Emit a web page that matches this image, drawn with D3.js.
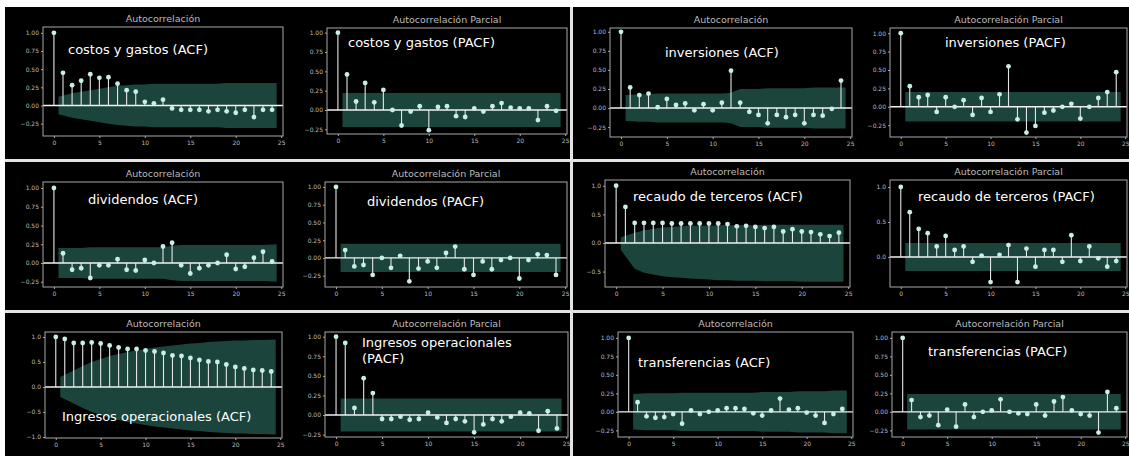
<!DOCTYPE html>
<html>
  <head>
    <meta charset="utf-8">
    <title>Autocorrelación</title>
    <script src="https://d3js.org/d3.v7.min.js"></script>
    <style>
      body { margin: 0; background: #fff; }
      svg { display: block; font-family: "DejaVu Sans", sans-serif; }
    </style>
  </head>
  <body>
    <svg id="chart" width="1129" height="456"></svg>
    <script>
      // lags shown in every panel
      const lags = [0, 1, 2, 3, 4, 5, 6, 7, 8, 9, 10, 11, 12, 13, 14, 15, 16, 17, 18, 19, 20, 21, 22, 23, 24];
      const xTicks = [0, 5, 10, 15, 20, 25];
      const ticksQuarter = [-0.25, 0, 0.25, 0.5, 0.75, 1];

      // values (lag 0..24)
      const costosAcf = [1.0, 0.45, 0.28, 0.34, 0.43, 0.38, 0.39, 0.30, 0.21, 0.19, 0.05, 0.03, 0.08, -0.04, -0.06, -0.06, -0.06, -0.08, -0.06, -0.08, -0.10, -0.06, -0.16, -0.06, -0.06];
      const costosPacf = [1.0, 0.46, 0.11, 0.35, 0.10, 0.26, 0.00, -0.20, -0.02, 0.05, -0.26, 0.04, 0.05, -0.08, -0.09, 0.02, -0.02, 0.05, 0.09, 0.03, 0.02, 0.02, -0.13, 0.05, -0.01];
      const inversionesAcf = [1.0, 0.27, 0.17, 0.19, 0.01, 0.12, 0.04, 0.06, -0.03, 0.05, -0.03, 0.07, 0.49, 0.07, -0.05, -0.09, -0.20, -0.09, -0.12, -0.09, -0.20, -0.09, -0.10, -0.01, 0.36];
      const inversionesPacf = [1.0, 0.28, 0.13, 0.16, -0.07, 0.13, 0.00, 0.09, -0.11, 0.12, -0.07, 0.17, 0.55, -0.17, -0.35, -0.26, -0.08, -0.05, 0.00, 0.04, -0.16, 0.00, 0.12, 0.20, 0.47];
      const dividendosAcf = [1.0, 0.13, -0.09, -0.07, -0.20, -0.03, -0.03, 0.05, -0.09, -0.10, 0.04, 0.00, 0.22, 0.27, -0.03, -0.14, -0.07, -0.03, 0.00, 0.11, -0.08, -0.05, 0.07, 0.15, 0.02];
      const dividendosPacf = [1.0, 0.11, -0.12, -0.10, -0.24, 0.00, -0.14, 0.03, -0.33, -0.15, -0.05, -0.14, 0.07, 0.16, -0.16, -0.24, -0.05, -0.16, -0.03, 0.00, -0.29, -0.03, 0.05, 0.04, -0.24];
      const recaudoAcf = [1.0, 0.63, 0.35, 0.35, 0.35, 0.35, 0.34, 0.34, 0.34, 0.34, 0.34, 0.34, 0.33, 0.29, 0.30, 0.28, 0.26, 0.28, 0.20, 0.24, 0.20, 0.19, 0.15, 0.12, 0.18];
      const recaudoPacf = [1.0, 0.64, 0.40, 0.34, 0.15, 0.30, 0.10, 0.15, -0.07, 0.02, -0.36, 0.03, 0.17, -0.36, 0.12, -0.14, 0.10, 0.10, -0.07, 0.31, -0.06, 0.15, -0.02, -0.14, -0.06];
      const ingresosAcf = [1.0, 0.96, 0.88, 0.88, 0.89, 0.87, 0.83, 0.79, 0.76, 0.76, 0.73, 0.71, 0.68, 0.63, 0.62, 0.58, 0.54, 0.51, 0.50, 0.45, 0.40, 0.37, 0.34, 0.33, 0.31];
      const ingresosPacf = [1.0, 0.92, 0.09, 0.47, 0.28, -0.05, -0.05, -0.02, -0.06, -0.05, 0.03, -0.03, -0.10, -0.05, -0.08, -0.22, -0.12, -0.05, -0.08, -0.02, 0.03, 0.02, -0.20, 0.05, -0.17];
      const transferenciasAcf = [1.0, 0.13, -0.06, -0.08, -0.07, -0.03, -0.16, 0.02, -0.03, 0.00, 0.02, 0.05, 0.05, 0.04, -0.02, -0.05, 0.02, 0.18, 0.03, 0.05, -0.01, -0.05, -0.15, -0.03, 0.04];
      const transferenciasPacf = [1.0, 0.16, -0.07, -0.05, -0.18, 0.03, -0.20, 0.10, -0.07, 0.00, 0.02, 0.17, 0.00, -0.02, -0.03, 0.10, -0.05, 0.14, 0.20, 0.02, -0.03, -0.05, -0.28, 0.27, 0.05];

      // confidence band half widths (lag 1..24)
      const costosAcfBand = [0.12, 0.17, 0.19, 0.21, 0.23, 0.25, 0.27, 0.28, 0.29, 0.29, 0.30, 0.30, 0.30, 0.30, 0.30, 0.30, 0.30, 0.30, 0.31, 0.31, 0.31, 0.31, 0.31, 0.31];
      const inversionesAcfBand = [0.17, 0.18, 0.18, 0.19, 0.19, 0.19, 0.19, 0.19, 0.19, 0.19, 0.19, 0.20, 0.25, 0.25, 0.25, 0.26, 0.26, 0.26, 0.26, 0.26, 0.27, 0.27, 0.27, 0.27];
      const dividendosAcfBand = [0.20, 0.20, 0.20, 0.21, 0.21, 0.21, 0.21, 0.21, 0.21, 0.21, 0.21, 0.21, 0.23, 0.24, 0.24, 0.24, 0.24, 0.24, 0.24, 0.24, 0.24, 0.24, 0.24, 0.25];
      const recaudoAcfBandHi = [0.10, 0.18, 0.22, 0.25, 0.27, 0.28, 0.29, 0.30, 0.30, 0.30, 0.31, 0.31, 0.31, 0.31, 0.31, 0.32, 0.32, 0.32, 0.32, 0.32, 0.32, 0.32, 0.32, 0.32];
      const recaudoAcfBandLo = [0.12, 0.45, 0.52, 0.55, 0.58, 0.60, 0.61, 0.62, 0.63, 0.64, 0.65, 0.65, 0.66, 0.66, 0.66, 0.67, 0.67, 0.67, 0.67, 0.68, 0.68, 0.68, 0.68, 0.68];
      const ingresosAcfBand = [0.20, 0.33, 0.42, 0.50, 0.56, 0.62, 0.66, 0.70, 0.73, 0.76, 0.79, 0.81, 0.83, 0.85, 0.87, 0.88, 0.90, 0.91, 0.92, 0.93, 0.93, 0.94, 0.94, 0.95];
      const transferenciasAcfBand = [0.24, 0.25, 0.25, 0.25, 0.25, 0.26, 0.26, 0.26, 0.26, 0.26, 0.26, 0.26, 0.26, 0.26, 0.27, 0.27, 0.27, 0.27, 0.28, 0.28, 0.28, 0.28, 0.29, 0.29];
      const costosPacfBand = 0.22;
      const inversionesPacfBand = 0.20;
      const dividendosPacfBand = 0.20;
      const recaudoPacfBand = 0.20;
      const ingresosPacfBand = 0.21;
      const transferenciasPacfBand = 0.24;

      const flat = function(v) { return lags.slice(1).map(function() { return v; }); };

      // panel layout
      const panels = [
        { values: costosAcf, hi: costosAcfBand, lo: costosAcfBand, title: "Autocorrelación", label: ["costos y gastos (ACF)"],
          box: [43, 27, 283, 136], y: [-0.42, 1.08], ticks: ticksQuarter, fmt: ".2f", lab: [25, 27] },
        { values: costosPacf, hi: flat(costosPacfBand), lo: flat(costosPacfBand), title: "Autocorrelación Parcial", label: ["costos y gastos (PACF)"],
          box: [327, 28, 567, 134], y: [-0.31, 1.06], ticks: ticksQuarter, fmt: ".2f", lab: [21, 19] },
        { values: inversionesAcf, hi: inversionesAcfBand, lo: inversionesAcfBand, title: "Autocorrelación", label: ["inversiones (ACF)"],
          box: [610, 28, 852, 137], y: [-0.38, 1.05], ticks: ticksQuarter, fmt: ".2f", lab: [55, 29] },
        { values: inversionesPacf, hi: flat(inversionesPacfBand), lo: flat(inversionesPacfBand), title: "Autocorrelación Parcial", label: ["inversiones (PACF)"],
          box: [890, 28, 1127, 137], y: [-0.41, 1.07], ticks: ticksQuarter, fmt: ".2f", lab: [55, 19] },
        { values: dividendosAcf, hi: dividendosAcfBand, lo: dividendosAcfBand, title: "Autocorrelación", label: ["dividendos (ACF)"],
          box: [43, 182, 283, 287], y: [-0.32, 1.08], ticks: ticksQuarter, fmt: ".2f", lab: [45, 22] },
        { values: dividendosPacf, hi: flat(dividendosPacfBand), lo: flat(dividendosPacfBand), title: "Autocorrelación Parcial", label: ["dividendos (PACF)"],
          box: [325, 182, 567, 287], y: [-0.41, 1.07], ticks: ticksQuarter, fmt: ".2f", lab: [42, 24] },
        { values: recaudoAcf, hi: recaudoAcfBandHi, lo: recaudoAcfBandLo, title: "Autocorrelación", label: ["recaudo de terceros (ACF)"],
          box: [605, 180, 850, 287], y: [-0.77, 1.1], ticks: [-0.5, 0, 0.5, 1], fmt: ".1f", lab: [28, 21] },
        { values: recaudoPacf, hi: flat(recaudoPacfBand), lo: flat(recaudoPacfBand), title: "Autocorrelación Parcial", label: ["recaudo de terceros (PACF)"],
          box: [890, 180, 1127, 287], y: [-0.43, 1.1], ticks: [0, 0.5, 1], fmt: ".1f", lab: [28, 21] },
        { values: ingresosAcf, hi: ingresosAcfBand, lo: ingresosAcfBand, title: "Autocorrelación", label: ["Ingresos operacionales (ACF)"],
          box: [45, 332, 282, 438], y: [-1.02, 1.1], ticks: [-1, -0.5, 0, 0.5, 1], fmt: ".1f", lab: [17, 89] },
        { values: ingresosPacf, hi: flat(ingresosPacfBand), lo: flat(ingresosPacfBand), title: "Autocorrelación Parcial", label: ["Ingresos operacionales", "(PACF)"],
          box: [325, 332, 568, 437], y: [-0.28, 1.06], ticks: ticksQuarter, fmt: ".2f", lab: [37, 15] },
        { values: transferenciasAcf, hi: transferenciasAcfBand, lo: transferenciasAcfBand, title: "Autocorrelación", label: ["transferencias (ACF)"],
          box: [618, 332, 853, 437], y: [-0.34, 1.08], ticks: ticksQuarter, fmt: ".2f", lab: [20, 35] },
        { values: transferenciasPacf, hi: flat(transferenciasPacfBand), lo: flat(transferenciasPacfBand), title: "Autocorrelación Parcial", label: ["transferencias (PACF)"],
          box: [892, 332, 1127, 437], y: [-0.34, 1.08], ticks: ticksQuarter, fmt: ".2f", lab: [36, 24] }
      ];

      const svg = d3.select("#chart");

      // page: white gaps between six black figures
      svg.append("rect").attr("width", 1129).attr("height", 456).attr("fill", "#e4e4e4");
      svg.append("rect").attr("width", 1129).attr("height", 7).attr("fill", "#fff");
      svg.append("rect").attr("width", 5).attr("height", 456).attr("fill", "#fff");
      const cells = [[5, 7, 570, 159], [573, 7, 1129, 159], [5, 162, 570, 310], [573, 162, 1129, 310], [5, 313, 570, 456], [573, 313, 1129, 456]];
      svg.selectAll(".cell")
        .data(cells)
        .enter().append("rect")
          .attr("x", function(d) { return d[0]; })
          .attr("y", function(d) { return d[1]; })
          .attr("width", function(d) { return d[2] - d[0]; })
          .attr("height", function(d) { return d[3] - d[1]; })
          .attr("fill", "#000");

      panels.forEach(function(p) {
        const x0 = p.box[0], y0 = p.box[1], x1 = p.box[2], y1 = p.box[3];
        const x = d3.scaleLinear().domain([-1.2, 25.2]).range([x0, x1]);
        const y = d3.scaleLinear().domain(p.y).range([y1, y0]);
        const g = svg.append("g");

        // confidence band, lag 0.5 .. 24.5
        const band = lags.slice(1).map(function(lag, i) {
          const pos = i === 0 ? lag - 0.5 : (i === lags.length - 2 ? lag + 0.5 : lag);
          return { lag: pos, hi: p.hi[i], lo: p.lo[i] };
        });
        g.append("path")
          .datum(band)
          .attr("d", d3.area()
            .x(function(d) { return x(d.lag); })
            .y0(function(d) { return y(-d.lo); })
            .y1(function(d) { return y(d.hi); }))
          .attr("fill", "#1b443c");

        // stems
        g.selectAll(".stem")
          .data(p.values)
          .enter().append("line")
            .attr("x1", function(d, i) { return x(lags[i]); })
            .attr("x2", function(d, i) { return x(lags[i]); })
            .attr("y1", y(0))
            .attr("y2", function(d) { return y(d); })
            .attr("stroke", "#e6e6e6")
            .attr("stroke-width", 1.1);

        // zero line
        g.append("line")
          .attr("x1", x0).attr("x2", x1)
          .attr("y1", y(0)).attr("y2", y(0))
          .attr("stroke", "#f2f2f2")
          .attr("stroke-width", 1.4);

        // markers
        g.selectAll(".dot")
          .data(p.values)
          .enter().append("circle")
            .attr("cx", function(d, i) { return x(lags[i]); })
            .attr("cy", function(d) { return y(d); })
            .attr("r", 2.4)
            .attr("fill", "#c8efe7");

        // frame
        g.append("rect")
          .attr("x", x0).attr("y", y0)
          .attr("width", x1 - x0).attr("height", y1 - y0)
          .attr("fill", "none")
          .attr("stroke", "#a8a8a8")
          .attr("stroke-width", 1);

        // axes
        const yAxis = g.append("g")
          .attr("transform", "translate(" + x0 + ",0)")
          .call(d3.axisLeft(y).tickValues(p.ticks).tickFormat(d3.format(p.fmt)).tickSize(2).tickPadding(2));
        const xAxis = g.append("g")
          .attr("transform", "translate(0," + y1 + ")")
          .call(d3.axisBottom(x).tickValues(xTicks).tickFormat(d3.format("d")).tickSize(2).tickPadding(3));
        [yAxis, xAxis].forEach(function(a) {
          a.select(".domain").remove();
          a.selectAll("line").attr("stroke", "#a8a8a8");
          a.selectAll("text").attr("fill", "#bdbdbd").style("font-size", "6px").style("font-family", "DejaVu Sans");
        });

        // title
        g.append("text")
          .attr("x", (x0 + x1) / 2)
          .attr("y", y0 - 5)
          .attr("text-anchor", "middle")
          .attr("fill", "#bcbcbc")
          .style("font-size", "9.5px")
          .text(p.title);

        // series name
        p.label.forEach(function(line, i) {
          g.append("text")
            .attr("x", x0 + p.lab[0])
            .attr("y", y0 + p.lab[1] + i * 16)
            .attr("fill", "#fff")
            .style("font-size", "13px")
            .text(line);
        });
      });
    </script>
  </body>
</html>
